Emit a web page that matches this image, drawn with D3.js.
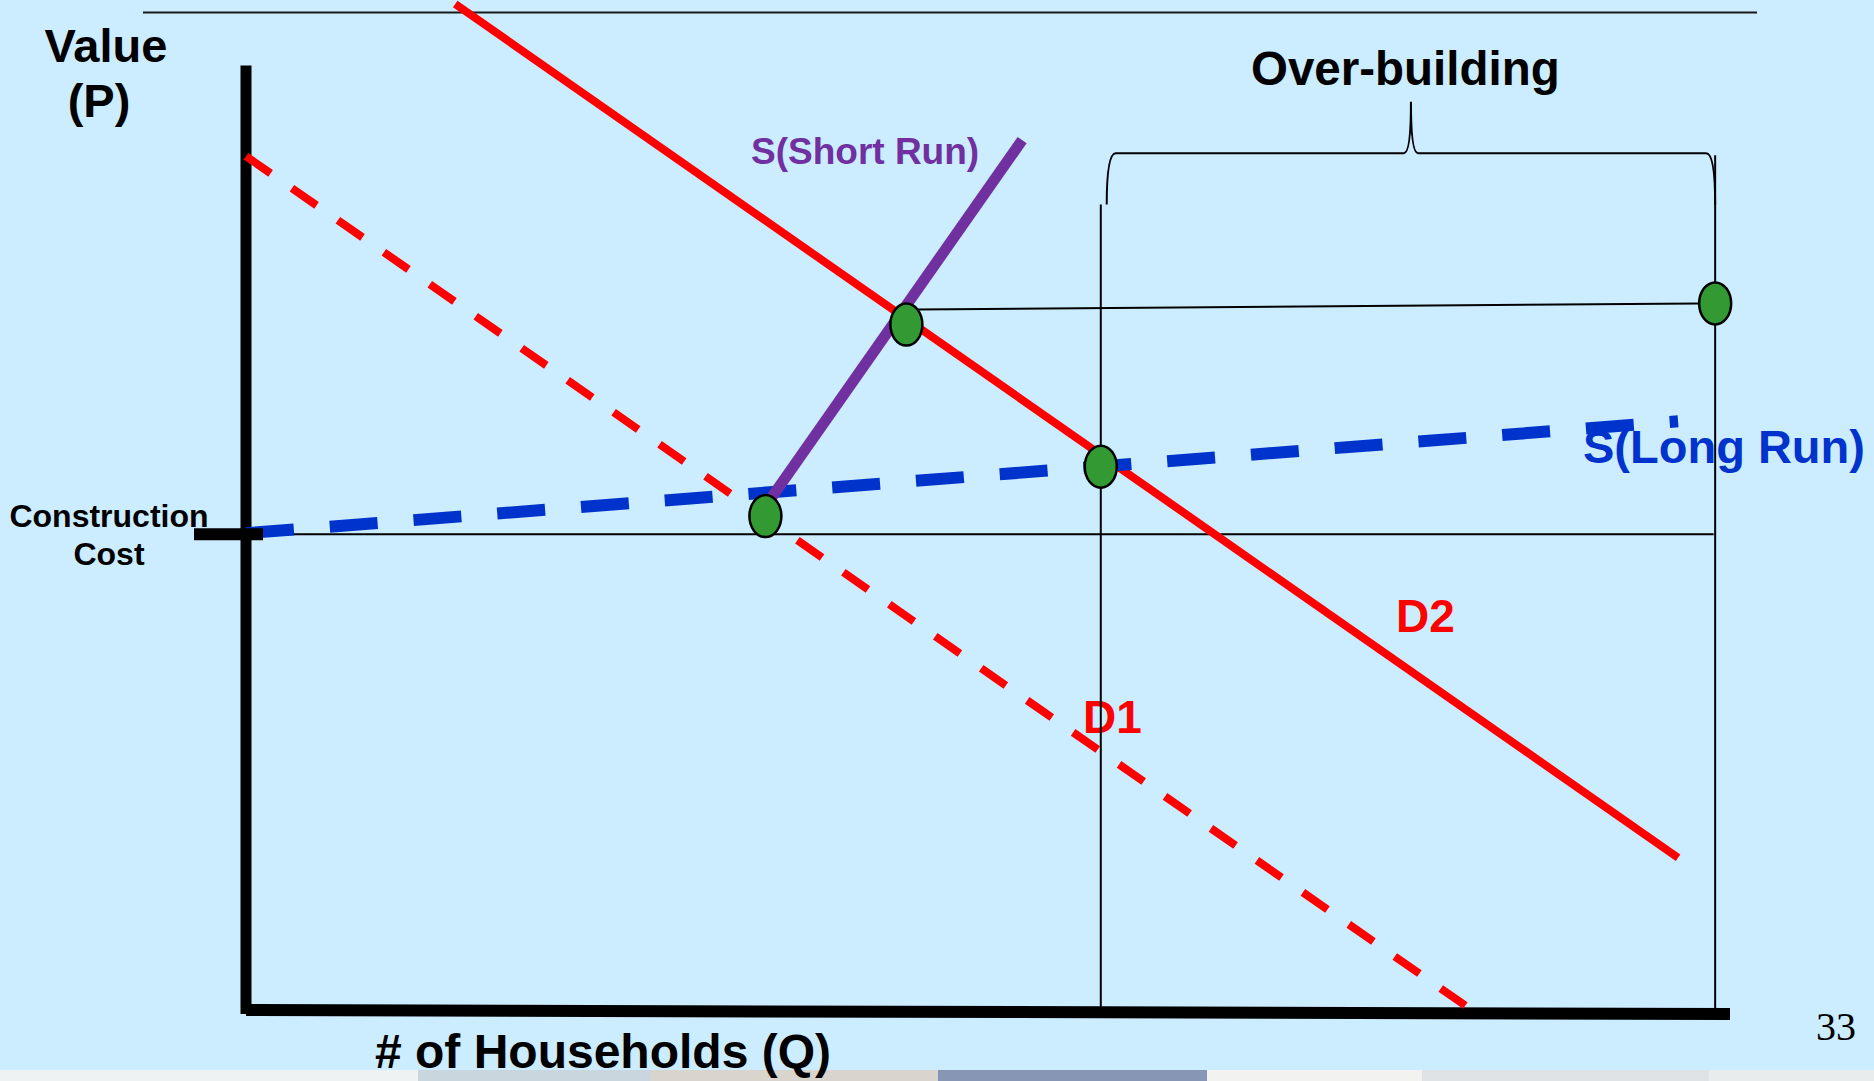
<!DOCTYPE html>
<html>
<head>
<meta charset="utf-8">
<script src="https://cdn.jsdelivr.net/npm/d3@7"></script>
<style>
  body { margin: 0; background: #CCECFF; overflow: hidden; }
  text { font-family: "Liberation Sans", Arial, sans-serif; font-weight: bold; }
</style>
</head>
<body>
<svg id="chart"></svg>
<script>
// curves, in (Q, P) units : Q = # of households, P = value
var demand1 = [[0, 84.9], [82.3, 0.5]];
var demand2 = [[14.1, 100], [96.5, 15.3]];
var supplyLong = [[0, 47.5], [96.5, 58.6]];
var supplyShort = [[35.4, 51.0], [52.3, 86.5]];
var constructionCost = 47.4;

// the four green equilibrium points
var equilibria = [[35.0, 49.2], [44.5, 68.2], [57.6, 54.1], [99.0, 70.3]];

// thin guide lines
var guideH = [[45.2, 69.7], [97.9, 70.3]];
var guideV = [[57.6, 80.1], [99.0, 85.0]];   // [Q, top P]
var ccEndQ = 98.9;

// over-building brace : left, tip, right (Q) and foot, bar, top (P)
var braceQ = [58.0, 78.5, 99.0];
var braceP = [80.1, 85.2, 90.3];

var axisTopP = 93.9;

var width = 1874, height = 1081;

var svg = d3.select("#chart")
    .attr("width", width)
    .attr("height", height);

svg.append("rect")
    .attr("width", width).attr("height", height)
    .attr("fill", "#CCECFF");

var x = d3.scaleLinear().domain([0, 100]).range([246, 1730]);
var y = d3.scaleLinear().domain([0, 100]).range([1012, 4]);

var line = d3.line().x(d => x(d[0])).y(d => y(d[1]));

// slide title rule
svg.append("line")
    .attr("x1", 143).attr("x2", 1757)
    .attr("y1", 12.5).attr("y2", 12.5)
    .attr("stroke", "#1a1a1a").attr("stroke-width", 2);

// axes
svg.append("line")
    .attr("x1", x(0)).attr("x2", x(0))
    .attr("y1", y(axisTopP)).attr("y2", y(0) + 2)
    .attr("stroke", "#000").attr("stroke-width", 11);

svg.append("path")
    .attr("d", line([[0, 0.2], [100, -0.2]]))
    .attr("stroke", "#000").attr("stroke-width", 12);

// construction cost line
svg.append("line")
    .attr("x1", x(0)).attr("x2", x(ccEndQ))
    .attr("y1", y(constructionCost)).attr("y2", y(constructionCost))
    .attr("stroke", "#000").attr("stroke-width", 2);

// D1 dashed, D2 solid
svg.append("path")
    .attr("d", line(demand1))
    .attr("fill", "none")
    .attr("stroke", "#FF0000").attr("stroke-width", 8)
    .attr("stroke-dasharray", "30 26");

svg.append("path")
    .attr("d", line(demand2))
    .attr("fill", "none")
    .attr("stroke", "#FF0000").attr("stroke-width", 8);

// long run supply
svg.append("path")
    .attr("d", line(supplyLong))
    .attr("fill", "none")
    .attr("stroke", "#0033CC").attr("stroke-width", 12)
    .attr("stroke-dasharray", "48 36");

// short run supply
svg.append("path")
    .attr("d", line(supplyShort))
    .attr("fill", "none")
    .attr("stroke", "#7030A0").attr("stroke-width", 11);

// tick for construction cost
svg.append("line")
    .attr("x1", 194).attr("x2", 263)
    .attr("y1", y(constructionCost)).attr("y2", y(constructionCost))
    .attr("stroke", "#000").attr("stroke-width", 12);

// labels
function label(txt, px, py, size, color, anchor) {
  return svg.append("text")
    .attr("x", px).attr("y", py)
    .attr("font-size", size)
    .attr("fill", color)
    .attr("text-anchor", anchor || "start")
    .text(txt);
}

label("S(Short Run)", 751, 164, 37, "#7030A0");
label("S(Long Run)", 1583, 463, 47, "#0033CC");
label("D1", 1083, 733, 46, "#FF0000");
label("D2", 1396, 632, 46, "#FF0000");

// guide lines
guideV.forEach(function (g) {
  svg.append("line")
    .attr("x1", x(g[0])).attr("x2", x(g[0]))
    .attr("y1", y(g[1])).attr("y2", y(0) - 4)
    .attr("stroke", "#000").attr("stroke-width", 2);
});

svg.append("path")
    .attr("d", line(guideH))
    .attr("stroke", "#000").attr("stroke-width", 2);

// brace over the over-building range
var bL = x(braceQ[0]), bT = x(braceQ[1]), bR = x(braceQ[2]);
var yF = y(braceP[0]), yB = y(braceP[1]), yT = y(braceP[2]);
var bp = d3.path();
bp.moveTo(bL, yF);
bp.quadraticCurveTo(bL, yB, bL + 9, yB);
bp.lineTo(bT - 7, yB);
bp.quadraticCurveTo(bT, yB, bT, yT);
bp.quadraticCurveTo(bT, yB, bT + 7, yB);
bp.lineTo(bR - 9, yB);
bp.quadraticCurveTo(bR, yB, bR, yF);
svg.append("path")
    .attr("d", bp.toString())
    .attr("fill", "none")
    .attr("stroke", "#000").attr("stroke-width", 2);

// equilibrium points
svg.selectAll(".eq")
  .data(equilibria)
  .enter()
  .append("ellipse")
    .attr("class", "eq")
    .attr("cx", d => x(d[0]))
    .attr("cy", d => y(d[1]))
    .attr("rx", 16).attr("ry", 21)
    .attr("fill", "#339933")
    .attr("stroke", "#000").attr("stroke-width", 2.5);

// axis titles
label("Value", 106, 62, 47, "#000", "middle");
label("(P)", 99, 117, 47, "#000", "middle");
label("Over-building", 1251, 85, 47.5, "#000");
label("Construction", 109, 527, 32, "#000", "middle");
label("Cost", 109, 565, 32, "#000", "middle");

// bottom photo strip of the slide template
var strip = [
  ["#eef2f2", 0, 418], ["#c9d6de", 418, 651], ["#d9d5cd", 651, 938],
  ["#8796b5", 938, 1207], ["#f2f2f0", 1207, 1422], ["#dfe3e6", 1422, 1709],
  ["#e9ecec", 1709, 1874]
];
strip.forEach(function (s) {
  svg.append("rect")
    .attr("x", s[1]).attr("y", 1070)
    .attr("width", s[2] - s[1]).attr("height", 11)
    .attr("fill", s[0]);
});

label("# of Households (Q)", 375, 1068, 48, "#000");

svg.append("text")
    .attr("x", 1816).attr("y", 1040)
    .attr("font-size", 40)
    .style("font-family", "'Liberation Serif', 'Times New Roman', serif")
    .style("font-weight", "normal")
    .attr("fill", "#000")
    .text("33");
</script>
</body>
</html>
